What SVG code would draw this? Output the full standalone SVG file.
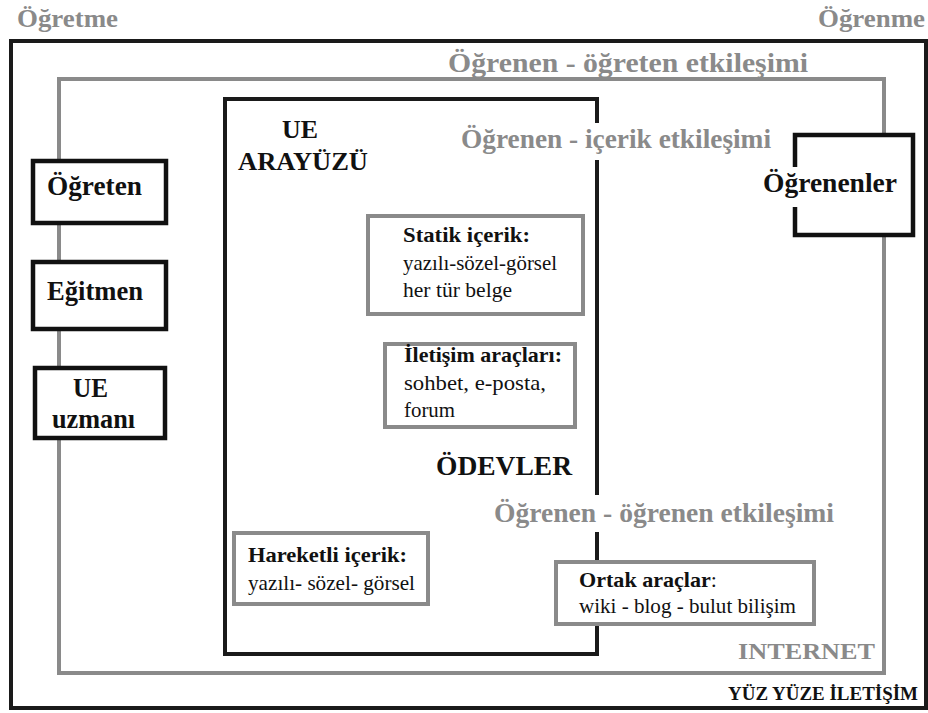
<svg xmlns="http://www.w3.org/2000/svg" width="928" height="713" viewBox="0 0 928 713" font-family="'Liberation Serif', 'DejaVu Serif', serif">
  <style>
    text { font-family: 'Liberation Serif', 'DejaVu Serif', serif; }
    .b { font-weight: bold; }
    .gray-t { fill: #8a8a8a; font-weight: bold; }
    .dark-t { fill: #111; }
    .frame-dark { fill: none; stroke: #1a1a1a; stroke-width: 4; }
    .frame-gray { fill: none; stroke: #8a8a8a; stroke-width: 4; }
    .node-dark { fill: #fff; stroke: #111; stroke-width: 4.5; }
    .node-gray { fill: #fff; stroke: #8a8a8a; stroke-width: 4; }
  </style>
  <rect width="928" height="713" fill="#fff"/>

  <!-- corner labels -->
  <text class="gray-t" x="17" y="27" font-size="26" textLength="101" lengthAdjust="spacingAndGlyphs">Öğretme</text>
  <text class="gray-t" x="818" y="27" font-size="26" textLength="107" lengthAdjust="spacingAndGlyphs">Öğrenme</text>

  <!-- frames: face-to-face, internet, LMS interface -->
  <g id="connectors">
    <rect class="frame-dark" x="11" y="41" width="915" height="667"/>
    <rect class="frame-gray" x="59" y="79" width="825" height="594"/>
    <path class="frame-dark" stroke="#000" d="M597 123 V99 H225 V654 H597 V623 M597 560 V532 M597 495 V160"/>
  </g>

  <!-- frame labels -->
  <text class="gray-t" x="448" y="72" font-size="28" textLength="360" lengthAdjust="spacingAndGlyphs">Öğrenen - öğreten etkileşimi</text>
  <text class="gray-t" x="461" y="148" font-size="27" textLength="310" lengthAdjust="spacingAndGlyphs">Öğrenen - içerik etkileşimi</text>
  <text class="gray-t" x="494" y="522" font-size="27" textLength="340" lengthAdjust="spacingAndGlyphs">Öğrenen - öğrenen etkileşimi</text>
  <text class="gray-t" x="738" y="659" font-size="24" textLength="137" lengthAdjust="spacingAndGlyphs">INTERNET</text>
  <text class="dark-t b" x="728" y="700" font-size="19" textLength="190" lengthAdjust="spacingAndGlyphs">YÜZ YÜZE İLETİŞİM</text>

  <g id="ue-arayuzu">
    <text class="dark-t b" x="282" y="138" font-size="26" textLength="36" lengthAdjust="spacingAndGlyphs">UE</text>
    <text class="dark-t b" x="238" y="170" font-size="26" textLength="130" lengthAdjust="spacingAndGlyphs">ARAYÜZÜ</text>
  </g>
  <g id="odevler">
    <text class="dark-t b" x="436" y="475" font-size="27" textLength="136" lengthAdjust="spacingAndGlyphs">ÖDEVLER</text>
  </g>

  <!-- teaching side -->
  <g id="ogreten">
    <rect class="node-dark" x="33" y="161" width="133" height="62"/>
    <text class="dark-t b" x="47" y="195" font-size="27" textLength="95" lengthAdjust="spacingAndGlyphs">Öğreten</text>
  </g>
  <g id="egitmen">
    <rect class="node-dark" x="33" y="262" width="133" height="67"/>
    <text class="dark-t b" x="47" y="300" font-size="27" textLength="96" lengthAdjust="spacingAndGlyphs">Eğitmen</text>
  </g>
  <g id="ue-uzmani">
    <rect class="node-dark" x="35" y="368" width="130" height="70"/>
    <text class="dark-t b" x="73" y="397" font-size="27" textLength="35" lengthAdjust="spacingAndGlyphs">UE</text>
    <text class="dark-t b" x="52" y="428" font-size="27" textLength="83" lengthAdjust="spacingAndGlyphs">uzmanı</text>
  </g>

  <!-- learner side -->
  <g id="ogrenenler">
    <rect x="795" y="135" width="118" height="100" fill="#fff"/>
    <path fill="none" stroke="#111" stroke-width="4.5" d="M795 167 V135 H913 V235 H795 V207"/>
    <text class="dark-t b" x="763" y="192" font-size="27" textLength="134" lengthAdjust="spacingAndGlyphs">Öğrenenler</text>
  </g>

  <!-- content and tools -->
  <g id="statik-icerik">
    <rect class="node-gray" x="368" y="216" width="215" height="98"/>
    <text class="dark-t b" x="403" y="242" font-size="21" textLength="127" lengthAdjust="spacingAndGlyphs">Statik içerik:</text>
    <text class="dark-t" x="403" y="270" font-size="21" textLength="154" lengthAdjust="spacingAndGlyphs">yazılı-sözel-görsel</text>
    <text class="dark-t" x="403" y="297" font-size="21" textLength="109" lengthAdjust="spacingAndGlyphs">her tür belge</text>
  </g>
  <g id="iletisim-araclari">
    <rect class="node-gray" x="385" y="344" width="190" height="83"/>
    <text class="dark-t b" x="404" y="362" font-size="21" textLength="158" lengthAdjust="spacingAndGlyphs">İletişim araçları:</text>
    <text class="dark-t" x="404" y="390" font-size="21" textLength="142" lengthAdjust="spacingAndGlyphs">sohbet, e-posta,</text>
    <text class="dark-t" x="404" y="417" font-size="21" textLength="51" lengthAdjust="spacingAndGlyphs">forum</text>
  </g>
  <g id="hareketli-icerik">
    <rect class="node-gray" x="234" y="533" width="194" height="71"/>
    <text class="dark-t b" x="248" y="562" font-size="21" textLength="159" lengthAdjust="spacingAndGlyphs">Hareketli içerik:</text>
    <text class="dark-t" x="248" y="590" font-size="21" textLength="167" lengthAdjust="spacingAndGlyphs">yazılı- sözel- görsel</text>
  </g>
  <g id="ortak-araclar">
    <rect class="node-gray" x="556" y="562" width="258" height="62"/>
    <text class="dark-t" x="579" y="587" font-size="21" textLength="138" lengthAdjust="spacingAndGlyphs"><tspan class="b">Ortak araçlar</tspan>:</text>
    <text class="dark-t" x="579" y="613" font-size="21" textLength="217" lengthAdjust="spacingAndGlyphs">wiki - blog - bulut bilişim</text>
  </g>
</svg>
